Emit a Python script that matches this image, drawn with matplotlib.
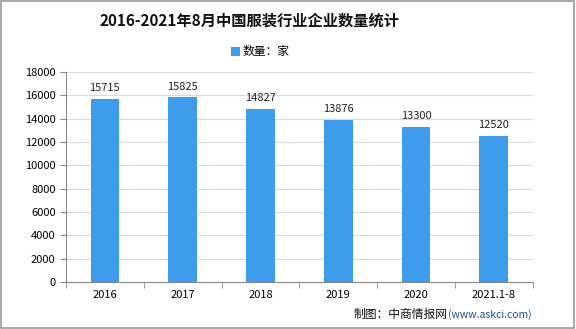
import matplotlib
matplotlib.use("Agg")
import matplotlib.pyplot as plt
from matplotlib.patches import Rectangle

plt.rcParams['font.family'] = ['Noto Sans CJK SC', 'DejaVu Sans']

# data
years = ['2016', '2017', '2018', '2019', '2020', '2021.1-8']
counts = [15715, 15825, 14827, 13876, 13300, 12520]
yticks = [0, 2000, 4000, 6000, 8000, 10000, 12000, 14000, 16000, 18000]

fig = plt.figure(figsize=(5.76, 3.29), dpi=100)
ax = fig.add_axes([0.1146, 0.143, 0.81, 0.638])

x = list(range(len(years)))
bars = ax.bar(x, counts, width=0.37, color='#3d9cec', zorder=3, label='数量：家')
for xi, v in zip(x, counts):
    ax.text(xi, v + 500, str(v), ha='center', va='bottom', fontsize=8, color='#222222')

ax.set_xlim(-0.5, len(years) - 0.5)
ax.set_ylim(0, 18000)
ax.set_yticks(yticks)
ax.set_yticklabels([str(t) for t in yticks], fontsize=8)
ax.set_xticks(x)
ax.set_xticklabels(years, fontsize=8)
ax.set_xticks([i - 0.5 for i in range(len(years) + 1)], minor=True)
ax.tick_params(axis='x', which='major', length=0, pad=6)
ax.tick_params(axis='x', which='minor', length=4, color='#888888')
ax.tick_params(axis='y', length=4, color='#888888')
ax.grid(axis='y', color='#d9d9d9', linewidth=0.8, zorder=0)
for s in ['top', 'right']:
    ax.spines[s].set_visible(False)
ax.spines['left'].set_color('#888888')
ax.spines['bottom'].set_color('#888888')

fig.text(0.433, 0.937, '2016-2021年8月中国服装行业企业数量统计', ha='center', va='center',
         fontsize=11, fontweight='bold', color='#111111')
ax.legend(loc='center', bbox_to_anchor=(0.452, 0.842), bbox_transform=fig.transFigure,
          frameon=False, fontsize=8.5, handlelength=0.8, handleheight=0.8, handletextpad=0.2)

t1 = fig.text(0.614, 0.043, '制图：中商情报网', ha='left', va='center', fontsize=8.5, color='#111111')
ax.annotate('(www.askci.com)', xy=(1, 0.5), xycoords=t1, ha='left', va='center',
            fontsize=7.5, color='#1f4e9a')

fig.patches.append(Rectangle((0.002, 0.003), 0.995, 0.994, transform=fig.transFigure,
                             fill=False, edgecolor='#999999', linewidth=1.2))

fig.savefig('out.png', dpi=100)
